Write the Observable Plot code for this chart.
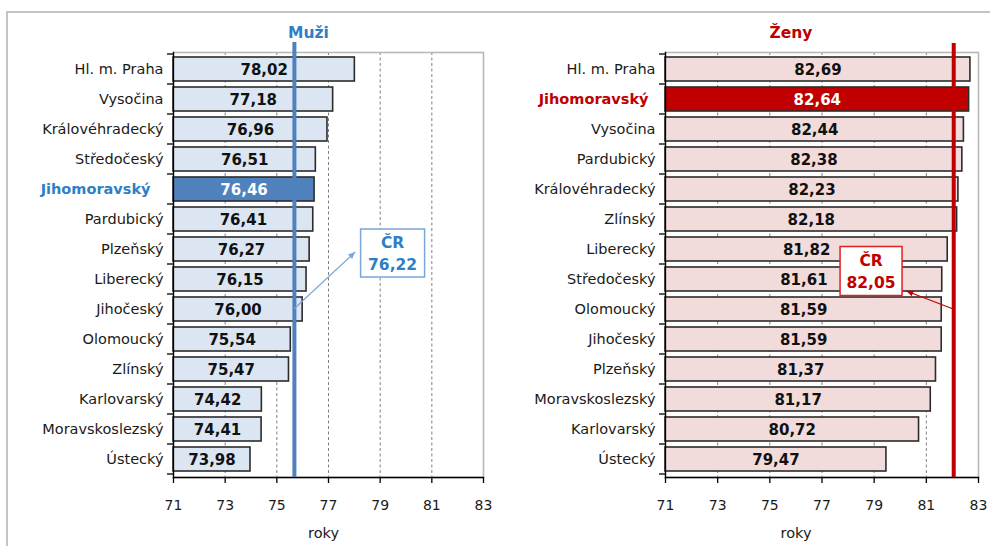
<!DOCTYPE html>
<html>
<head>
<meta charset="utf-8">
<script src="https://cdn.jsdelivr.net/npm/d3@7"></script>
<script src="https://cdn.jsdelivr.net/npm/@observablehq/plot@0.6"></script>
<style>
  html, body { margin: 0; padding: 0; background: #fff; }
  #wrap { position: relative; width: 990px; height: 546px; overflow: hidden; font-family: "DejaVu Sans", sans-serif; }
  #border { position: absolute; left: 6px; top: 11px; right: -10px; bottom: -10px; border-left: 2px solid #c4c4c4; border-top: 2px solid #c4c4c4; }
  .panel { position: absolute; top: 0; }
  #men { left: 0; }
  #women { left: 495px; }
</style>
</head>
<body>
<div id="wrap">
  <div id="border"></div>
  <div class="panel" id="men"></div>
  <div class="panel" id="women"></div>
</div>
<script>
// ---- data ----
const menCats = ["Hl. m. Praha", "Vysočina", "Královéhradecký", "Středočeský", "Jihomoravský", "Pardubický", "Plzeňský", "Liberecký", "Jihočeský", "Olomoucký", "Zlínský", "Karlovarský", "Moravskoslezský", "Ústecký"];
const menVals = [78.02, 77.18, 76.96, 76.51, 76.46, 76.41, 76.27, 76.15, 76.00, 75.54, 75.47, 74.42, 74.41, 73.98];
const womenCats = ["Hl. m. Praha", "Jihomoravský", "Vysočina", "Pardubický", "Královéhradecký", "Zlínský", "Liberecký", "Středočeský", "Olomoucký", "Jihočeský", "Plzeňský", "Moravskoslezský", "Karlovarský", "Ústecký"];
const womenVals = [82.69, 82.64, 82.44, 82.38, 82.23, 82.18, 81.82, 81.61, 81.59, 81.59, 81.37, 81.17, 80.72, 79.47];
const xDomain = [71, 83];
const xTicks = [71, 73, 75, 77, 79, 81, 83];
const gridTicks = [73, 75, 77, 79, 81];
const highlight = "Jihomoravský";
const crLabels = {men: 76.22, women: 82.05};
const crLines = {men: 75.68, women: 82.05};   // positions of the vertical lines as drawn
const titles = {men: "Muži", women: "Ženy"};
const axisLabel = "roky";

const fmt = v => v.toFixed(2).replace(".", ",");

function boundaryTicks() {
  return (index, scales, values, dims) => {
    const y = scales.y;
    const bw = y.bandwidth(), step = y.step();
    const g = d3.create("svg:g").attr("stroke", "#000").attr("stroke-width", 1.3);
    const dom = y.domain();
    const ys = dom.map(c => y(c) - (step - bw) / 2);
    ys.push(ys[ys.length - 1] + step);
    for (const yy of ys) {
      g.append("line").attr("x1", dims.marginLeft - 6).attr("x2", dims.marginLeft)
        .attr("y1", yy).attr("y2", yy);
    }
    return g.node();
  };
}

function annotation(cfg) {
  return (index, scales, values, dims) => {
    const {x, y} = scales;
    const bw = y.bandwidth();
    const cy = c => y(c) + bw / 2;
    const g = d3.create("svg:g");
    const x1 = x(cfg.fromX), y1 = cy(cfg.fromCat) + cfg.fromDy;
    const x2 = x(cfg.toX), y2 = cy(cfg.toCat) + cfg.toDy;
    g.append("line").attr("x1", x1).attr("y1", y1).attr("x2", x2).attr("y2", y2)
      .attr("stroke", cfg.arrowColor).attr("stroke-width", 1.2);
    const a = Math.atan2(y2 - y1, x2 - x1), L = 7, W = 3;
    const p = [
      [x2, y2],
      [x2 - L * Math.cos(a) + W * Math.sin(a), y2 - L * Math.sin(a) - W * Math.cos(a)],
      [x2 - L * Math.cos(a) - W * Math.sin(a), y2 - L * Math.sin(a) + W * Math.cos(a)]
    ];
    g.append("polygon").attr("points", p.map(d => d.join(",")).join(" ")).attr("fill", cfg.arrowColor);
    const bx = x(cfg.boxX), by = cy(cfg.boxCat) + cfg.boxDy;
    g.append("rect").attr("x", bx - cfg.w / 2).attr("y", by - cfg.h / 2)
      .attr("width", cfg.w).attr("height", cfg.h)
      .attr("fill", "#fff").attr("stroke", cfg.boxStroke).attr("stroke-width", 1.5);
    cfg.lines.forEach((t, i) => {
      g.append("text").attr("x", bx).attr("y", by + (i === 0 ? -10 : 12))
        .attr("text-anchor", "middle").attr("dy", "0.35em")
        .attr("fill", cfg.textColor).attr("font-weight", "bold").attr("font-size", 15.5)
        .attr("font-family", "DejaVu Sans, sans-serif")
        .text(t);
    });
    return g.node();
  };
}

function panel(cats, vals, opts) {
  const data = cats.map((c, i) => ({cat: c, value: vals[i], hi: c === highlight}));
  return Plot.plot({
    width: 495,
    height: 546,
    marginLeft: opts.marginLeft,
    marginRight: 12,
    marginTop: 52,
    marginBottom: 69,
    style: {fontFamily: "DejaVu Sans, sans-serif", fontSize: "14px", color: "#1a1a1a", background: "transparent", overflow: "visible"},
    x: {domain: xDomain, axis: null},
    y: {domain: cats, paddingInner: 0.19, paddingOuter: 0.095, axis: null},
    marks: [
      Plot.gridX(gridTicks, {stroke: "#808080", strokeOpacity: 1, strokeDasharray: "3,2.5", strokeWidth: 1}),
      Plot.frame({stroke: "#b8b8b8", strokeWidth: 1.6}),
      Plot.barX(data, {
        y: "cat", x1: () => xDomain[0], x2: "value",
        fill: d => d.hi ? opts.hiFill : opts.fill,
        stroke: "#2b2b2b", strokeWidth: 1.6
      }),
      Plot.text(data, {
        y: "cat", x: d => (xDomain[0] + d.value) / 2,
        text: d => fmt(d.value),
        fill: d => d.hi ? "#fff" : "#111",
        fontWeight: "bold", fontSize: 15, dy: 1
      }),
      Plot.frame({anchor: "bottom", stroke: "#000", strokeWidth: 1.3}),
      Plot.frame({anchor: "left", stroke: "#000", strokeWidth: 1.3}),
      boundaryTicks(),
      Plot.axisX(xTicks, {tickSize: 6, tickPadding: 17, fontSize: 14, label: null, stroke: "#000", strokeWidth: 1.3}),
      Plot.text(cats.filter(c => c !== highlight), {
        y: d => d, frameAnchor: "left", dx: -10, textAnchor: "end", fontSize: 14.5, fill: "#1a1a1a"
      }),
      Plot.text([highlight], {
        y: d => d, frameAnchor: "left", dx: opts.hiDx, textAnchor: "end", fontSize: 14.5,
        fontWeight: "bold", fill: opts.hiText
      }),
      Plot.ruleX([opts.crLine], {stroke: opts.lineColor, strokeWidth: 4, insetTop: opts.lineInsetTop}),
      Plot.text([opts.title], {frameAnchor: "top", lineAnchor: "middle", dx: opts.titleDx, dy: -19, fontSize: 15.5, fontWeight: "bold", fill: opts.hiText}),
      Plot.text([axisLabel], {frameAnchor: "bottom", lineAnchor: "middle", dx: opts.rokyDx, dy: 56, fontSize: 14.5, fill: "#1a1a1a"}),
      annotation(opts.annot)
    ]
  });
}

document.getElementById("men").append(panel(menCats, menVals, {
  marginLeft: 173,
  fill: "#dce6f2", hiFill: "#4f81bd", hiText: "#2e7fc6", hiDx: -23,
  lineColor: "#4f81bd", crLine: crLines.men, lineInsetTop: -10,
  title: titles.men, titleDx: -20, rokyDx: -5,
  annot: {
    boxX: 79.5, boxCat: "Plzeňský", boxDy: 4, w: 64, h: 48,
    boxStroke: "#7aa6d8", textColor: "#2e7fc6", arrowColor: "#7aa6d8",
    lines: ["ČR", fmt(crLabels.men)],
    fromX: crLines.men, fromCat: "Jihočeský", fromDy: 0,
    toX: 78.05, toCat: "Plzeňský", toDy: 3
  }
}));

document.getElementById("women").append(panel(womenCats, womenVals, {
  marginLeft: 170,
  fill: "#f2dcdb", hiFill: "#c00000", hiText: "#c00000", hiDx: -17,
  lineColor: "#c00000", crLine: crLines.women, lineInsetTop: -9,
  title: titles.women, titleDx: -31, rokyDx: -26,
  annot: {
    boxX: 78.9, boxCat: "Středočeský", boxDy: -8, w: 62, h: 49,
    boxStroke: "#d22", textColor: "#c00000", arrowColor: "#c00000",
    lines: ["ČR", fmt(crLabels.women)],
    fromX: crLines.women, fromCat: "Olomoucký", fromDy: 0,
    toX: 80.25, toCat: "Středočeský", toDy: 12
  }
}));
</script>
</body>
</html>
